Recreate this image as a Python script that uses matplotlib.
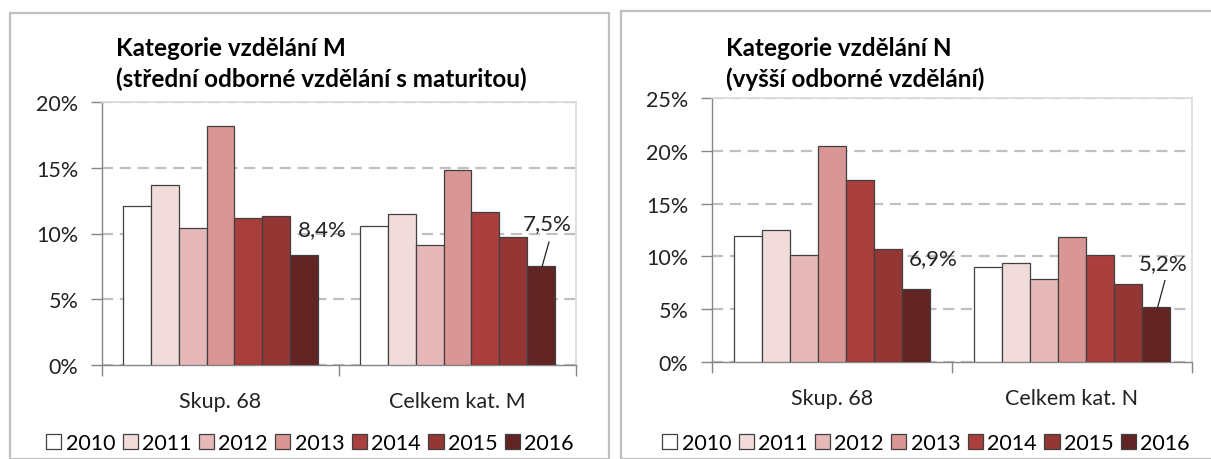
import matplotlib.pyplot as plt
import matplotlib.patches as mpatches
import numpy as np

plt.rcParams['font.family'] = ['Lato', 'DejaVu Sans']

roky = ['2010', '2011', '2012', '2013', '2014', '2015', '2016']
barvy = ['#FFFFFF', '#F2DCDB', '#E6B9B8', '#D99694', '#AA3E3C', '#933634', '#632523']

kat_m = ['Skup. 68', 'Celkem kat. M']
hodnoty_m = {
    'Skup. 68':      [12.1, 13.7, 10.4, 18.2, 11.2, 11.3, 8.4],
    'Celkem kat. M': [10.6, 11.5, 9.1, 14.8, 11.6, 9.7, 7.5],
}
kat_n = ['Skup. 68', 'Celkem kat. N']
hodnoty_n = {
    'Skup. 68':      [11.9, 12.5, 10.1, 20.5, 17.2, 10.7, 6.9],
    'Celkem kat. N': [9.0, 9.4, 7.9, 11.8, 10.1, 7.4, 5.2],
}

W, H = 1211, 460
fig = plt.figure(figsize=(W / 100, H / 100), dpi=100)

# ramecky kolem obou grafu
for x0, y0, x1 in [(10, 14, 609), (621, 12, 1215)]:
    fig.add_artist(mpatches.Rectangle((x0 / W, 0), (x1 - x0) / W, (H - y0) / H,
                                      transform=fig.transFigure, fill=False,
                                      edgecolor='#C0C0C0', linewidth=1.6))

sirka = 0.117
fs = 15.5


def graf(px, kategorie, hodnoty, ymax, titulek, popisky, legx):
    x0, x1, yt, yb = px
    ax = fig.add_axes([x0 / W, (H - yb) / H, (x1 - x0) / W, (yb - yt) / H])
    x = np.arange(len(kategorie))
    for i, rok in enumerate(roky):
        vals = [hodnoty[k][i] for k in kategorie]
        ax.bar(x + (i - 3) * sirka, vals, width=sirka, color=barvy[i],
               edgecolor='#404040', linewidth=0.9, label=rok, zorder=3)
    ax.set_xlim(-0.5, len(kategorie) - 0.5)
    ax.set_ylim(0, ymax)
    ax.set_yticks(np.arange(0, ymax + 1, 5))
    ax.set_yticklabels([f'{v}%' for v in range(0, ymax + 1, 5)], fontsize=fs, color='#222222')
    ax.yaxis.grid(True, linestyle=(0, (5, 3)), color='#C0C0C0', linewidth=1.6, zorder=0)
    ax.set_xticks([-0.5, 0.5, 1.5])
    ax.set_xticklabels([])
    ax.tick_params(axis='x', length=8, color='#868686', width=1)
    ax.tick_params(axis='y', length=8, color='#868686', width=1, pad=9)
    for i, k in enumerate(kategorie):
        ax.text(i, -ymax * 0.135, k, ha='center', va='center', fontsize=fs, color='#222222')
    for s in ['left', 'bottom']:
        ax.spines[s].set_color('#868686')
        ax.spines[s].set_linewidth(1)
    for s in ['top', 'right']:
        ax.spines[s].set_color('#D9D9D9')
        ax.spines[s].set_linewidth(1.2)
    # popisky posledniho roku
    for (tx, ty, txt, cara) in popisky:
        ax.text(tx, ty, txt, ha='center', va='center', fontsize=16, color='#222222', zorder=5)
        if cara:
            ax.plot([cara[0], cara[2]], [cara[1], cara[3]], color='#222222', linewidth=0.9, zorder=5)
    fig.text((x0 + 14) / W, (H - 64) / H, titulek, fontsize=17.5, fontweight='bold',
             ha='left', va='center', linespacing=1.38)
    ax.legend(loc='center', bbox_to_anchor=(legx / W, (H - 444) / H),
              bbox_transform=fig.transFigure, ncol=7, frameon=False, fontsize=fs,
              handlelength=0.7, handleheight=0.7, handletextpad=0.2,
              columnspacing=0.35, borderaxespad=0)
    return ax


graf((102, 576, 103, 366), kat_m, hodnoty_m, 20,
     'Kategorie vzdělání M\n(střední odborné vzdělání s maturitou)',
     [(0.43, 10.3, '8,4%', None),
      (1.38, 10.8, '7,5%', (1.386, 9.35, 1.357, 7.5))], 310)

graf((712, 1192, 99, 363), kat_n, hodnoty_n, 25,
     'Kategorie vzdělání N\n(vyšší odborné vzdělání)',
     [(0.42, 9.8, '6,9%', None),
      (1.38, 9.4, '5,2%', (1.387, 7.7, 1.357, 5.2))], 926)

fig.savefig('out.png', dpi=100)
